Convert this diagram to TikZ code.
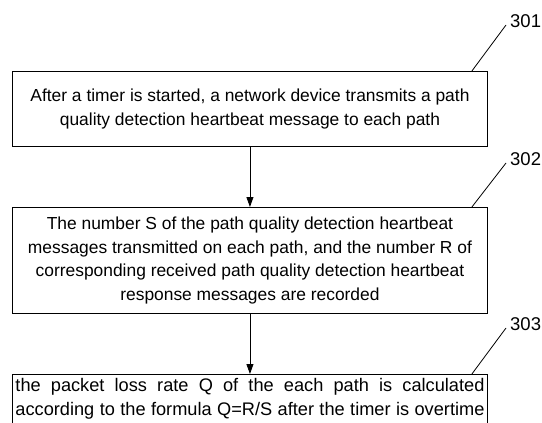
\documentclass[tikz,border=0pt]{standalone}
\usepackage{fontspec}
\setmainfont{Liberation Sans}
\usetikzlibrary{arrows.meta}
\tikzset{
  stepbox/.style={draw, line width=0.9pt, inner sep=0pt, minimum width=475pt, anchor=north west},
  flow/.style={draw, line width=0.8pt, -{Triangle[length=10pt,width=7pt]}},
  refline/.style={draw, line width=0.8pt},
  reflabel/.style={font=\fontsize{18.5}{20}\selectfont, anchor=west, inner sep=0pt},
  boxtext/.style={font=\fontsize{17.4}{23.5}\selectfont, align=center}
}
\begin{document}
\begin{tikzpicture}[x=1pt,y=-1pt]
  \useasboundingbox (0,0) rectangle (542,423);
  % process steps
  \node[stepbox, minimum height=75pt] (s1) at (12,71) {};
  \node[boxtext] at (s1.center) {After a timer is started, a network device transmits a path\\quality detection heartbeat message to each path};
  \node[stepbox, minimum height=106pt] (s2) at (12,207) {};
  \node[boxtext] at (s2.center) {The number S of the path quality detection heartbeat\\messages transmitted on each path, and the number R of\\corresponding received path quality detection heartbeat\\response messages are recorded};
  \node[stepbox, minimum height=50pt] (s3) at (12,374) {};
  \node[font=\fontsize{18.2}{24}\selectfont, align=left, inner sep=0pt] at ([yshift=1pt]s3.center)
    {\makebox[469pt][s]{the packet loss rate Q of the each path is calculated}\\
     \makebox[469pt][s]{according to the formula Q=R/S after the timer is overtime}};
  % flow arrows
  \draw[flow] (s1.south) -- (s2.north);
  \draw[flow] (s2.south) -- (s3.north);
  % reference numerals
  \coordinate (r1) at (506,25);
  \coordinate (r2) at (506,163);
  \coordinate (r3) at (506,328);
  \draw[refline] ([xshift=-16pt]s1.north east) -- (r1);
  \draw[refline] ([xshift=-16pt]s2.north east) -- (r2);
  \draw[refline] ([xshift=-16pt]s3.north east) -- (r3);
  \node[reflabel] (l1) at (510,21) {301};
  \node[reflabel] (l2) at (510,159) {302};
  \node[reflabel] (l3) at (510,324) {303};
\end{tikzpicture}
\end{document}
